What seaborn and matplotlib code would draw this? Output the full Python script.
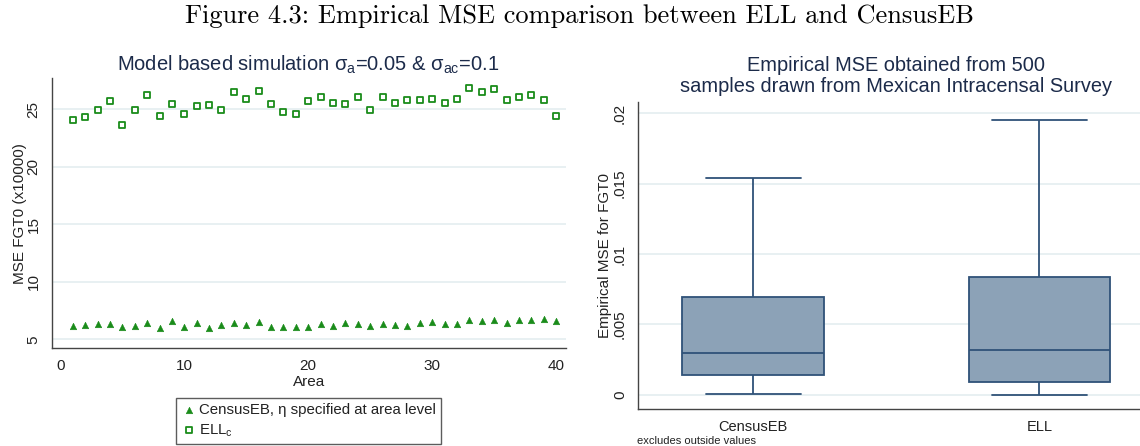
import numpy as np
import pandas as pd
import matplotlib
matplotlib.use("Agg")
import matplotlib.pyplot as plt
import seaborn as sns

# ---------------- data ----------------
areas = list(range(1, 41))
ell_c = [24.01, 24.30, 24.94, 25.70, 23.63, 24.94, 26.22, 24.42, 25.41, 24.53,
         25.23, 25.38, 24.88, 26.51, 25.84, 26.57, 25.47, 24.71, 24.53, 25.70,
         26.05, 25.55, 25.44, 26.08, 24.94, 26.08, 25.49, 25.76, 25.78, 25.90,
         25.55, 25.84, 26.86, 26.48, 26.74, 25.76, 26.08, 26.19, 25.81, 24.42]
census_eb = [6.16, 6.25, 6.37, 6.34, 6.10, 6.19, 6.40, 5.99, 6.63, 6.10,
             6.45, 6.02, 6.28, 6.40, 6.22, 6.51, 6.10, 6.05, 6.05, 6.05,
             6.37, 6.19, 6.40, 6.37, 6.19, 6.37, 6.25, 6.19, 6.42, 6.51,
             6.34, 6.37, 6.69, 6.63, 6.69, 6.45, 6.66, 6.69, 6.74, 6.60]

box_groups = ["CensusEB", "ELL"]
# five-number summaries (min, Q1, median, Q3, max) of empirical MSE
censuseb_summary = [0.00007, 0.00140, 0.00299, 0.00697, 0.01540]
ell_summary = [0.00000, 0.00093, 0.00318, 0.00833, 0.01955]

left_yticks = [5, 10, 15, 20, 25]
left_xticks = [0, 10, 20, 30, 40]
right_yticks = [0, 0.005, 0.01, 0.015, 0.02]
right_yticklabels = ["0", ".005", ".01", ".015", ".02"]

# ---------------- style ----------------
sns.set_theme(style="white")
plt.rcParams["font.family"] = ["Liberation Sans", "DejaVu Sans"]
plt.rcParams["mathtext.fontset"] = "custom"
plt.rcParams["mathtext.rm"] = "Liberation Sans"

GREEN = "#1a8c1a"
NAVY_TXT = "#1c2b4a"
GRID = "#e6eff1"
SPINE = "#444444"
BOX_FILL = "#8ca2b7"
BOX_EDGE = "#2f5278"

W, H = 1140, 446
fig = plt.figure(figsize=(W / 100, H / 100), dpi=100)

def fx(px):
    return px / W

def fy(py):
    return 1 - py / H

# ---------------- left panel ----------------
axL = fig.add_axes([fx(51.7), fy(348.3), fx(566 - 51.7), (348.3 - 78.3) / H])
df_left = pd.DataFrame({"Area": areas, "ell": ell_c, "ceb": census_eb})
sns.scatterplot(data=df_left, x="Area", y="ceb", ax=axL, marker="^", s=22,
                color=GREEN, edgecolor=GREEN, linewidth=0.4,
                label="CensusEB, η specified at area level", zorder=3)
sns.scatterplot(data=df_left, x="Area", y="ell", ax=axL, marker="s", s=18,
                facecolor="white", edgecolor=GREEN, linewidth=1.3,
                label="ELL$_\\mathregular{c}$", zorder=3)
axL.set_xlim(-0.7, 40.8)
axL.set_ylim(4.22, 27.67)
axL.set_xticks(left_xticks)
axL.set_yticks(left_yticks)
axL.set_yticklabels([str(v) for v in left_yticks], rotation=90, va="center")
axL.grid(axis="y", color=GRID, linewidth=1.3)
axL.set_axisbelow(True)
for s in ["top", "right"]:
    axL.spines[s].set_visible(False)
for s in ["left", "bottom"]:
    axL.spines[s].set_color(SPINE)
    axL.spines[s].set_linewidth(1.0)
axL.tick_params(axis="both", direction="out", length=5, width=1, color=SPINE,
                labelsize=11, labelcolor="#222222", pad=3)
axL.set_xlabel("Area", fontsize=11, color="#222222", labelpad=1)
axL.set_ylabel("MSE FGT0 (x10000)", fontsize=11, color="#222222", labelpad=0)
leg = axL.legend(loc="center", bbox_to_anchor=(fx(308.5), fy(421)),
                 bbox_transform=fig.transFigure, frameon=True, fancybox=False,
                 edgecolor="#333333", fontsize=10.8, handletextpad=0.2,
                 borderpad=0.35, labelspacing=0.3, handlelength=1.0,
                 markerscale=1.0)
leg.get_frame().set_linewidth(1.0)
for t in leg.get_texts():
    t.set_color("#222222")

fig.text(fx(308), fy(65), "Model based simulation σ$_\\mathregular{a}$=0.05 & σ$_\\mathregular{ac}$=0.1",
         ha="center", va="center", fontsize=14.5, color=NAVY_TXT)

# ---------------- right panel ----------------
axR = fig.add_axes([fx(638), fy(409.3), fx(W - 638), (409.3 - 102) / H])
df_right = pd.DataFrame({
    "group": [box_groups[0]] * len(censuseb_summary) + [box_groups[1]] * len(ell_summary),
    "mse": censuseb_summary + ell_summary,
})
sns.boxplot(data=df_right, x="group", y="mse", order=box_groups, ax=axR,
            whis=(0, 100), width=0.495, color=BOX_FILL, saturation=1,
            linecolor=BOX_EDGE, linewidth=1.3, showfliers=False, capwidths=0.332)
axR.set_xlim(-0.403, 1.352)
axR.set_ylim(-0.00104, 0.0208)
axR.set_yticks(right_yticks)
axR.set_yticklabels(right_yticklabels, rotation=90, va="center")
axR.grid(axis="y", color=GRID, linewidth=1.3)
axR.set_axisbelow(True)
for s in ["top", "right"]:
    axR.spines[s].set_visible(False)
for s in ["left", "bottom"]:
    axR.spines[s].set_color(SPINE)
    axR.spines[s].set_linewidth(1.0)
axR.tick_params(axis="y", direction="out", length=5, width=1, color=SPINE,
                labelsize=11, labelcolor="#222222", pad=3)
axR.tick_params(axis="x", length=0, labelsize=10.5, labelcolor="#222222", pad=8)
axR.set_xlabel("")
axR.set_ylabel("Empirical MSE for FGT0", fontsize=11, color="#222222", labelpad=1)

fig.text(fx(896), fy(65.7), "Empirical MSE obtained from 500",
         ha="center", va="center", fontsize=14.4, color=NAVY_TXT)
fig.text(fx(896), fy(86), "samples drawn from Mexican Intracensal Survey",
         ha="center", va="center", fontsize=14.4, color=NAVY_TXT)
fig.text(fx(637), fy(441), "excludes outside values", ha="left", va="center",
         fontsize=8, color="#222222")

# ---------------- figure caption ----------------
fig.text(fx(579), fy(16), "Figure 4.3: Empirical MSE comparison between ELL and CensusEB",
         ha="center", va="center", fontsize=19, color="black",
         family=["cmr10", "DejaVu Serif"])

fig.savefig("out.png", dpi=100)
